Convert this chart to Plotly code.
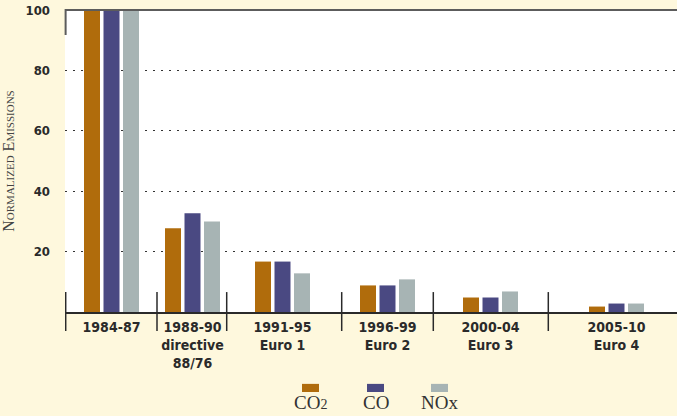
import plotly.graph_objects as go

# ---- data ----
periods = ["1984-87", "1988-90<br>directive<br>88/76", "1991-95<br>Euro 1",
           "1996-99<br>Euro 2", "2000-04<br>Euro 3", "2005-10<br>Euro 4"]
series_names = ["CO<span style='font-size:14px'>2</span>", "CO", "NOx"]
co2 = [100, 27.7, 16.7, 8.8, 4.8, 1.8]
co = [100, 32.7, 16.7, 8.8, 4.8, 2.8]
nox = [100, 30.0, 12.8, 10.8, 6.8, 2.8]
y_ticks = [20, 40, 60, 80, 100]

# ---- layout helpers (positions / styles) ----
group_pos = [111.5, 192.5, 282.5, 387.5, 490.5, 616.5]   # x-axis units
separators = [65.7, 157, 226.7, 341.7, 433.3, 548.3]
colors = ["#B06C0C", "#4A4982", "#A7B4B4"]
offsets = [-27.5, -8, 11.5]
legend_x = [310.5, 375.5, 439.5]
bg = "#FEF8DD"
label_font = "DejaVu Sans Condensed"

fig = go.Figure()
for vals, col, off in zip([co2, co, nox], colors, offsets):
    fig.add_trace(go.Bar(x=group_pos, y=vals, width=16, offset=off,
                         marker=dict(color=col, line=dict(width=0)),
                         showlegend=False, hoverinfo="skip"))

shapes = []
for s in separators:
    shapes.append(dict(type="line", xref="x", yref="paper", x0=s, x1=s,
                       y0=0.066, y1=-0.063, line=dict(color="#2a2a2a", width=1.5)))
# top border and short left stub
shapes.append(dict(type="path", xref="paper", yref="paper",
                   path="M 0.001,0.917 L 0.001,1 L 1,1",
                   line=dict(color="#5c5c5c", width=2)))
annotations = []
for name, col, lx in zip(series_names, colors, legend_x):
    shapes.append(dict(type="rect", xref="x", yref="paper", x0=lx - 8.5, x1=lx + 8.5,
                       y0=-0.238, y1=-0.265, fillcolor=col, line=dict(width=0)))
    annotations.append(dict(x=lx, y=-0.30, xref="x", yref="paper", text=name,
                            showarrow=False, xanchor="center", yanchor="middle",
                            font=dict(family="Liberation Serif", size=19, color="#333333")))

fig.update_layout(
    width=677, height=416,
    margin=dict(l=65, r=0, t=10, b=104, autoexpand=False),
    paper_bgcolor=bg, plot_bgcolor="white",
    barmode="overlay",
    shapes=shapes, annotations=annotations,
    xaxis=dict(range=[65, 677], tickvals=group_pos, ticktext=periods,
               showgrid=False, zeroline=False, showline=True, automargin=False,
               linecolor="#2a2a2a", linewidth=1.5, ticks="",
               tickfont=dict(family=label_font, size=14, color="#2a2a2a", weight="bold"),
               ticklabelstandoff=1),
    yaxis=dict(range=[0, 100], tickvals=y_ticks, ticktext=[str(v) for v in y_ticks],
               showgrid=True, gridcolor="#333333", gridwidth=1, griddash="2px,6px",
               zeroline=False, showline=False, ticks="", automargin=False,
               tickfont=dict(family=label_font, size=13, color="#2a2a2a", weight="bold"),
               ticklabelstandoff=14,
               title=dict(text="Normalized Emissions",
                          font=dict(family="Liberation Serif", size=16, color="#444444",
                                    variant="small-caps"),
                          standoff=9)),
)
fig.write_html("out.html", config={"displayModeBar": False},
               post_script="document.body.style.margin='0';document.body.style.background='" + bg + "';")
